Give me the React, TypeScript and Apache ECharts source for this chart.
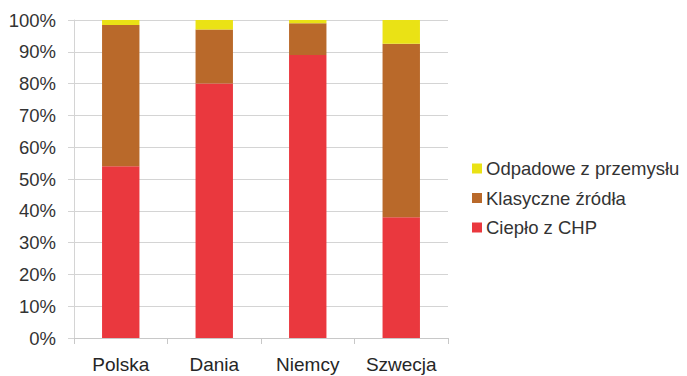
import React, { useEffect, useRef } from "react";
import * as echarts from "echarts";

const categories = ["Polska", "Dania", "Niemcy", "Szwecja"];
const chp = [54, 80, 89, 38];
const klasyczne = [44.4, 17, 10, 54.5];
const odpadowe = [1.6, 3, 1, 7.5];
const seriesNames = ["Ciepło z CHP", "Klasyczne źródła", "Odpadowe z przemysłu"];
const colors = ["#EA383E", "#B9692A", "#EAE215"];

export default function App() {
  const ref = useRef<HTMLDivElement>(null);
  useEffect(() => {
    if (!ref.current) return;
    const chart = echarts.init(ref.current, null, { renderer: "svg" });
    const font = "Liberation Sans, Arial, sans-serif";
    const datasets = [chp, klasyczne, odpadowe];
    chart.setOption({
      animation: false,
      textStyle: { fontFamily: font },
      grid: { left: 74, right: 239, top: 20, bottom: 38 },
      legend: {
        orient: "vertical",
        left: 467,
        top: 154,
        itemWidth: 10,
        itemHeight: 10,
        itemGap: 10.5,
        icon: "rect",
        data: [seriesNames[2], seriesNames[1], seriesNames[0]],
        textStyle: { fontSize: 18.5, lineHeight: 19, color: "#333", fontFamily: font, padding: [0, 0, 0, -1] },
      },
      xAxis: {
        type: "category",
        data: categories,
        axisLine: { lineStyle: { color: "#c8c8c8" } },
        axisTick: { show: true, length: 6, lineStyle: { color: "#c8c8c8" } },
        axisLabel: { fontSize: 19, color: "#262626", margin: 17, fontFamily: font },
      },
      yAxis: {
        type: "value",
        min: 0,
        max: 100,
        interval: 10,
        axisLine: { show: true, lineStyle: { color: "#d4d4d4" } },
        axisTick: { show: true, length: 6, lineStyle: { color: "#d4d4d4" } },
        splitLine: { lineStyle: { color: "#d4d4d4" } },
        axisLabel: { formatter: "{value}%", fontSize: 18.5, color: "#333", margin: 18, fontFamily: font },
      },
      series: datasets.map((d, i) => ({
        name: seriesNames[i],
        type: "bar",
        stack: "total",
        barWidth: "40%",
        data: d,
        itemStyle: { color: colors[i] },
      })),
    });
    return () => chart.dispose();
  }, []);
  return <div ref={ref} style={{ width: 687, height: 376, position: "absolute", left: 0, top: 0 }} />;
}
